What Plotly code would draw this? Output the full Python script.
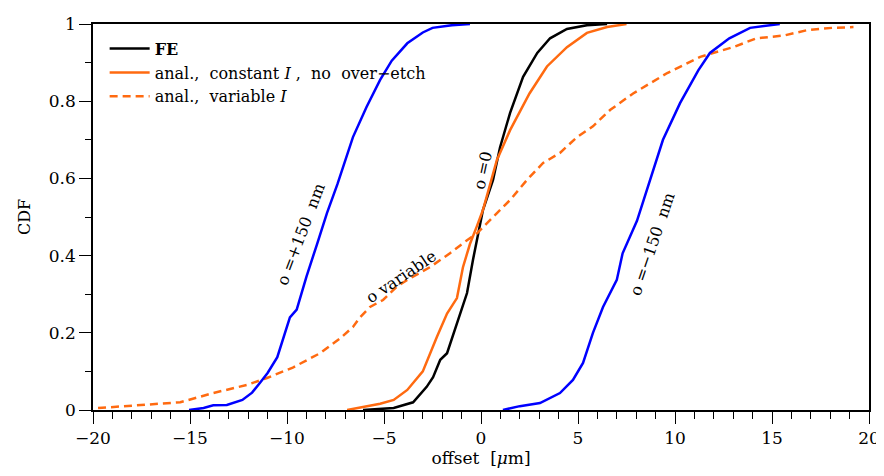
import plotly.graph_objects as go

# o = +150 nm (blue, left)
blue_left_x = [-15.05, -14.3, -13.8, -13.1, -12.3, -11.8, -11.4, -11.0, -10.5, -10.1, -9.85, -9.5, -9.0, -8.45, -7.94, -7.4, -7.1, -6.6, -5.9, -5.2, -4.6, -3.8, -3.0, -2.5, -1.5, -0.57]
blue_left_y = [0.0, 0.005, 0.012, 0.013, 0.026, 0.045, 0.07, 0.096, 0.137, 0.2, 0.24, 0.26, 0.345, 0.43, 0.51, 0.585, 0.63, 0.707, 0.785, 0.855, 0.905, 0.95, 0.978, 0.99, 0.997, 1.0]

# o = -150 nm (blue, right)
blue_right_x = [1.13, 2.0, 3.04, 4.07, 4.74, 5.26, 5.77, 6.29, 7.0, 7.3, 8.04, 8.7, 9.38, 10.26, 11.2, 11.8, 12.8, 13.87, 15.4]
blue_right_y = [0.0, 0.01, 0.018, 0.044, 0.078, 0.122, 0.2, 0.267, 0.337, 0.406, 0.49, 0.596, 0.70, 0.795, 0.88, 0.925, 0.963, 0.99, 1.0]

# FE (black)
fe_x = [-6.08, -5.05, -4.5, -3.5, -2.8, -2.47, -2.1, -1.75, -1.24, -0.72, -0.41, -0.05, 0.1, 0.62, 0.98, 1.5, 2.17, 2.9, 3.56, 4.43, 5.46, 6.5]
fe_y = [0.0, 0.003, 0.005, 0.02, 0.06, 0.085, 0.13, 0.147, 0.225, 0.303, 0.39, 0.475, 0.518, 0.596, 0.68, 0.77, 0.863, 0.925, 0.963, 0.987, 0.997, 1.0]

# analytical, constant I, no over-etch (orange solid)
const_x = [-6.9, -6.08, -5.2, -4.5, -3.8, -3.0, -2.63, -2.27, -1.75, -1.24, -0.93, -0.57, -0.22, 0.1, 0.82, 1.5, 2.5, 3.4, 4.43, 5.46, 6.5, 7.5]
const_y = [0.0, 0.008, 0.016, 0.026, 0.052, 0.1, 0.147, 0.19, 0.25, 0.29, 0.37, 0.43, 0.475, 0.518, 0.648, 0.725, 0.82, 0.89, 0.94, 0.977, 0.992, 1.0]

# analytical, variable I (orange dashed)
var_x = [-19.74, -17.2, -15.5, -13.8, -12.06, -11.03, -9.7, -8.3, -7.27, -6.6, -6.24, -5.72, -5.05, -4.33, -3.8, -2.63, -1.6, -0.72, -0.2, 0.62, 1.5, 2.37, 3.2, 4.07, 4.95, 5.77, 6.65, 7.84, 9.6, 11.3, 13.0, 14.2, 15.6, 16.8, 18.1, 19.2]
var_y = [0.005, 0.013, 0.02, 0.044, 0.065, 0.083, 0.11, 0.147, 0.185, 0.215, 0.24, 0.267, 0.285, 0.32, 0.337, 0.37, 0.406, 0.44, 0.458, 0.5, 0.544, 0.596, 0.64, 0.666, 0.707, 0.735, 0.777, 0.82, 0.873, 0.915, 0.94, 0.963, 0.97, 0.984, 0.99, 0.992]

x_ticks = [-20, -15, -10, -5, 0, 5, 10, 15, 20]
y_ticks = [0, 0.2, 0.4, 0.6, 0.8, 1]
y_tick_labels = ["0", "0.2", "0.4", "0.6", "0.8", "1"]

BLUE = "#0000ff"
ORANGE = "#ff6a10"
FONT = "DejaVu Serif"

fig = go.Figure()
fig.add_trace(go.Scatter(x=fe_x, y=fe_y, mode="lines", name="<b>FE</b>",
                         line=dict(color="black", width=2.5)))
fig.add_trace(go.Scatter(x=const_x, y=const_y, mode="lines",
                         name="anal.,  constant <i>I</i> ,  no  over\u2212etch",
                         line=dict(color=ORANGE, width=2.5)))
fig.add_trace(go.Scatter(x=var_x, y=var_y, mode="lines",
                         name="anal.,  variable <i>I</i>",
                         line=dict(color=ORANGE, width=2.5, dash="8px,5px")))
fig.add_trace(go.Scatter(x=blue_left_x, y=blue_left_y, mode="lines", showlegend=False,
                         line=dict(color=BLUE, width=2.5)))
fig.add_trace(go.Scatter(x=blue_right_x, y=blue_right_y, mode="lines", showlegend=False,
                         line=dict(color=BLUE, width=2.5)))

ann_font = dict(family=FONT, size=16, color="black")
annotations = [
    dict(x=-9.3, y=0.455, text="o =+150  nm", textangle=-69),
    dict(x=-4.1, y=0.345, text="o variable", textangle=-34),
    dict(x=0.1, y=0.62, text="o =0", textangle=-78),
    dict(x=8.8, y=0.43, text="o =\u2212150  nm", textangle=-71),
]
for a in annotations:
    fig.add_annotation(x=a["x"], y=a["y"], text=a["text"], textangle=a["textangle"],
                       showarrow=False, font=ann_font, xref="x", yref="y")

fig.update_layout(
    width=884, height=476,
    margin=dict(l=85, r=23, t=16, b=74),
    plot_bgcolor="white", paper_bgcolor="white",
    font=dict(family=FONT, size=17, color="black"),
    legend=dict(x=0.015, y=0.98, xanchor="left", yanchor="top",
                bgcolor="rgba(0,0,0,0)", font=dict(family=FONT, size=16),
                tracegroupgap=0, itemwidth=40),
)
fig.update_xaxes(
    range=[-20, 20], tickvals=x_ticks, ticktext=[str(v).replace("-", "\u2212") for v in x_ticks],
    ticks="outside", ticklen=12, tickwidth=1.3, tickcolor="black",
    minor=dict(dtick=1, ticks="outside", ticklen=7, tickwidth=1.3, tickcolor="black", showgrid=False),
    showline=True, linecolor="black", linewidth=1.5, mirror=True,
    showgrid=False, zeroline=False, automargin=False,
    title=dict(text="offset  [<i>\u03bc</i>m]", font=dict(family=FONT, size=17), standoff=2),
    tickfont=dict(family=FONT, size=17),
)
fig.update_yaxes(
    range=[0, 1], tickvals=y_ticks, ticktext=y_tick_labels,
    ticks="outside", ticklen=12, tickwidth=1.3, tickcolor="black",
    minor=dict(dtick=0.1, ticks="outside", ticklen=6, tickwidth=1.3, tickcolor="black", showgrid=False),
    showline=True, linecolor="black", linewidth=1.5, mirror=True,
    showgrid=False, zeroline=False, automargin=False,
    title=dict(text="CDF", font=dict(family=FONT, size=16), standoff=14),
    tickfont=dict(family=FONT, size=17),
)

fig.write_html("out.html")
